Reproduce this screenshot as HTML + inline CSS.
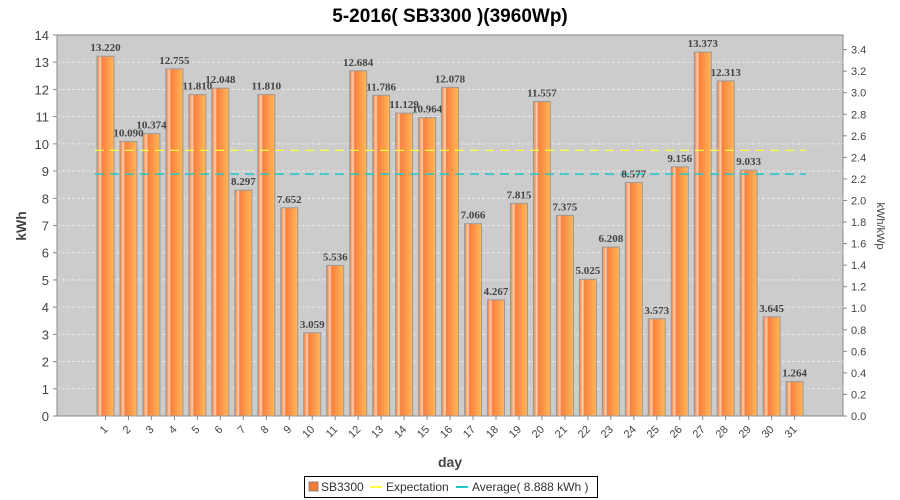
<!DOCTYPE html>
<html><head><meta charset="utf-8"><style>body{margin:0;background:#fff}svg{display:block}</style></head>
<body><svg id="c" width="900" height="500" xmlns="http://www.w3.org/2000/svg" font-family="Liberation Sans, sans-serif">
<defs><linearGradient id="g" x1="0" x2="1" y1="0" y2="0">
<stop offset="0" stop-color="#f87a30"/><stop offset="0.2" stop-color="#ffd0b0"/><stop offset="0.3" stop-color="#f88040"/><stop offset="0.8" stop-color="#ffa850"/><stop offset="1" stop-color="#ffb860"/></linearGradient></defs>
<text x="450" y="22" text-anchor="middle" font-size="19" font-weight="bold" fill="#000">5-2016( SB3300 )(3960Wp)</text>
<rect x="57" y="35" width="786" height="381" fill="#cccccc" stroke="#888"/>
<g id="grid"></g><g id="bars"></g><g id="lab"></g>
<text x="450" y="467" text-anchor="middle" font-size="14" font-weight="bold" fill="#444">day</text>
<text transform="translate(26,226) rotate(-90)" text-anchor="middle" font-size="14" font-weight="bold" fill="#444">kWh</text>
<text transform="translate(877,226) rotate(90)" text-anchor="middle" font-size="11" fill="#444">kWh/kWp</text>
<rect x="304.5" y="476.5" width="293" height="21" fill="#fff" stroke="#000"/>
<rect x="309" y="482" width="9" height="9" fill="#f87a30" stroke="#888"/>
<text x="321" y="491" font-size="12" fill="#333">SB3300</text>
<line x1="370" x2="382" y1="487" y2="487" stroke="#ffff40" stroke-width="2"/>
<text x="386" y="491" font-size="12" fill="#333">Expectation</text>
<line x1="456" x2="468" y1="487" y2="487" stroke="#20c8c8" stroke-width="2"/>
<text x="472" y="491" font-size="12" fill="#333">Average( 8.888 kWh )</text>
</svg>
<script>
const v=[13.220,10.090,10.374,12.755,11.810,12.048,8.297,11.810,7.652,3.059,5.536,12.684,11.786,11.129,10.964,12.078,7.066,4.267,7.815,11.557,7.375,5.025,6.208,8.577,3.573,9.156,13.373,12.313,9.033,3.645,1.264];
const ns="http://www.w3.org/2000/svg";const S=27.214,B=416;
function el(p,t,a,txt){const e=document.createElementNS(ns,t);for(const k in a)e.setAttribute(k,a[k]);if(txt!=null)e.textContent=txt;document.getElementById(p).appendChild(e);return e;}
for(let i=0;i<=14;i++){const y=B-i*S;if(i>0&&i<14)el("grid","line",{x1:57,x2:843,y1:y,y2:y,stroke:"#eee","stroke-dasharray":"3,2","stroke-width":0.8});
el("grid","line",{x1:53,x2:57,y1:y,y2:y,stroke:"#888"});el("grid","text",{x:49,y:y+5,"text-anchor":"end","font-size":13,fill:"#444"},i);}
for(let i=0;i<=17;i++){const y=B-i*0.2*S*3.96;if(y<35)break;el("grid","line",{x1:843,x2:847,y1:y,y2:y,stroke:"#888"});el("grid","text",{x:851,y:y+4,"font-size":11,fill:"#444"},(i*0.2).toFixed(1));}
el("grid","line",{x1:57,x2:57,y1:35,y2:B,stroke:"#888"});
v.forEach((d,i)=>{const cx=105.5+i*22.97,h=d*S;
el("bars","rect",{x:cx-8.5,y:B-h,width:17,height:h,fill:"url(#g)",stroke:"#999"});
el("bars","line",{x1:cx,x2:cx,y1:B,y2:B+4,stroke:"#888"});
el("lab","text",{x:cx,y:B-h-5,"text-anchor":"middle","font-size":11,"font-weight":"bold","font-family":"Liberation Serif, serif",fill:"#444"},d.toFixed(3));
el("lab","text",{transform:`translate(${cx+3},${B+14}) rotate(-45)`,"text-anchor":"end","font-size":11,fill:"#444"},i+1);});
el("bars","line",{x1:95,x2:806,y1:B-9.76*S,y2:B-9.76*S,stroke:"#ffff40","stroke-width":1.2,"stroke-dasharray":"9,6"});
el("bars","line",{x1:95,x2:806,y1:B-8.888*S,y2:B-8.888*S,stroke:"#20c8c8","stroke-width":1.6,"stroke-dasharray":"9,6"});
</script></body></html>
